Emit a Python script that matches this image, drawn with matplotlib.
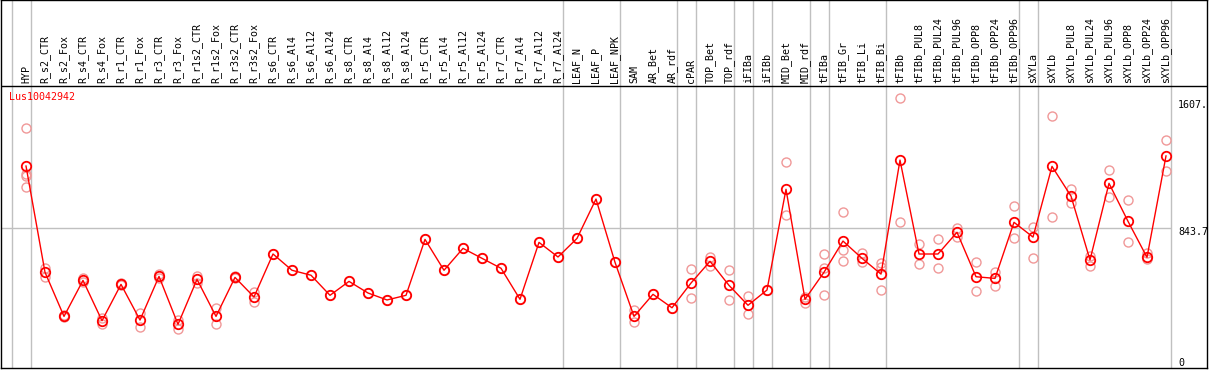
import numpy as np
import matplotlib
matplotlib.use('Agg')
import matplotlib.pyplot as plt
import matplotlib.transforms as mtransforms

gene = 'Lus10042942'

samples = ['HYP', 'R_s2_CTR', 'R_s2_Fox', 'R_s4_CTR', 'R_s4_Fox', 'R_r1_CTR', 'R_r1_Fox',
           'R_r3_CTR', 'R_r3_Fox', 'R_r1s2_CTR', 'R_r1s2_Fox', 'R_r3s2_CTR', 'R_r3s2_Fox',
           'R_s6_CTR', 'R_s6_Al4', 'R_s6_Al12', 'R_s6_Al24', 'R_s8_CTR', 'R_s8_Al4',
           'R_s8_Al12', 'R_s8_Al24', 'R_r5_CTR', 'R_r5_Al4', 'R_r5_Al12', 'R_r5_Al24',
           'R_r7_CTR', 'R_r7_Al4', 'R_r7_Al12', 'R_r7_Al24', 'LEAF_N', 'LEAF_P', 'LEAF_NPK',
           'SAM', 'AR_Bet', 'AR_rdf', 'cPAR', 'TOP_Bet', 'TOP_rdf', 'iFIBa', 'iFIBb',
           'MID_Bet', 'MID_rdf', 'tFIBa', 'tFIB_Gr', 'tFIB_Li', 'tFIB_Bi', 'tFIBb',
           'tFIBb_PUL8', 'tFIBb_PUL24', 'tFIBb_PUL96', 'tFIBb_OPP8', 'tFIBb_OPP24',
           'tFIBb_OPP96', 'sXYLa', 'sXYLb', 'sXYLb_PUL8', 'sXYLb_PUL24', 'sXYLb_PUL96',
           'sXYLb_OPP8', 'sXYLb_OPP24', 'sXYLb_OPP96']

# mean expression per sample
means = [1217, 577, 311, 528, 285, 504, 289, 552, 263, 534, 311, 546, 428, 687, 589,
         559, 438, 522, 452, 410, 438, 775, 589, 721, 661, 601, 414, 757, 669, 781, 1018,
         637, 311, 444, 363, 512, 643, 498, 378, 470, 1077, 414, 577, 765, 661, 566,
         1253, 687, 687, 818, 550, 540, 878, 789, 1215, 1036, 651, 1113, 884, 667, 1278]

# replicate values
replicates = [[1444, 1169, 1157, 1089], [601, 550], [305, 318], [540, 516], [299, 263],
              [510, 498], [333, 245], [565, 540], [289, 235], [554, 510], [360, 263],
              [552, 540], [460, 398], [687], [589],
              [559], [438], [522], [452], [410], [438], [775], [589], [721], [661],
              [601], [414], [757], [669], [781], [1018],
              [637], [349, 279], [444], [363], [595, 420], [671, 617], [589, 408],
              [432, 327], [470], [1240, 920], [430, 394], [685, 605, 440],
              [938, 711, 647], [691, 637], [631, 607, 470], [1625, 878],
              [747, 627], [777, 601], [842, 791], [641, 464], [580, 496], [978, 781],
              [851, 661], [1517, 908], [1079, 992], [675, 617], [1193, 1032],
              [1012, 757], [691, 657], [1372, 1187]]

# number of samples in each tissue group
group_sizes = [1, 28, 3, 3, 1, 2, 1, 1, 2, 1, 3, 7, 1, 7]

y_ticks = [1607, 843.7, 0]
y_tick_labels = ['1607.', '843.7', '0']
mid_line = 843.7

# ---- layout in pixels ----
W, H = 1209, 370
px_scale = 140 / 843.7          # pixels per unit
x0_px, step_px = 26, 19

fig = plt.figure(figsize=(W / 100, H / 100), dpi=100)
ax = fig.add_axes([1 / W, 2 / H, (1207 - 1) / W, 368 / H])
ax.set_xlim((1 - x0_px) / step_px, (1207 - x0_px) / step_px)
ax.set_ylim(0, 368 / px_scale)
ax.set_xticks([])
ax.set_yticks([])
for s in ax.spines.values():
    s.set_color('black')
    s.set_linewidth(1.0)

x = np.arange(len(samples))
font = dict(family='DejaVu Sans Mono', fontsize=7.2)

# group separators
edges = np.concatenate([[-1], np.cumsum(group_sizes) - 1]) + 0.24
for e in edges:
    ax.axvline(e, color='#c0c0c0', lw=1, zorder=1)

# header separator and middle line
header_y = (368 - 86) / px_scale
ax.axhline(header_y, color='black', lw=1.0, zorder=2)
ax.hlines(mid_line, ax.get_xlim()[0], edges[-1], color='#c0c0c0', lw=1, zorder=1)

# replicates
for i, reps in enumerate(replicates):
    ax.plot([x[i]] * len(reps), reps, 'o', mfc='none', mec='#f09898', ms=6.5, mew=1.0,
            zorder=3)

ax.plot(x, means, '-', color='red', lw=1, zorder=4)
ax.plot(x, means, 'o', mfc='none', mec='red', ms=6.8, mew=1.3, zorder=5)

# sample labels
lab_tr = mtransforms.offset_copy(ax.transData, fig, y=3, units='dots')
for i, name in enumerate(samples):
    ax.text(x[i], header_y, name, rotation=90, ha='center', va='bottom',
            transform=lab_tr, clip_on=False, **font)

# gene name
ax.text((9 - x0_px) / step_px, (368 - 97) / px_scale, gene, color='red',
        ha='left', va='center', **font)

# value labels on the right
tx = (1178 - x0_px) / step_px
val_tr = mtransforms.offset_copy(ax.transData, fig, y=-4, units='dots')
for v, lab in zip(y_ticks, y_tick_labels):
    if v == 0:
        ax.text(tx, v, lab, ha='left', va='bottom', **font)
    else:
        ax.text(tx, v, lab, ha='left', va='center', transform=val_tr, **font)

fig.savefig('out.png', dpi=100)
